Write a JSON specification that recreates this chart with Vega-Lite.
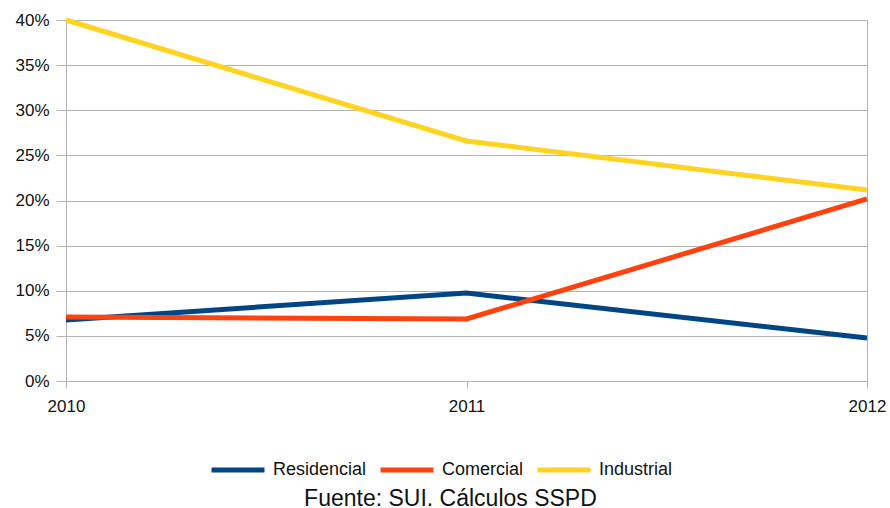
{
  "$schema": "https://vega.github.io/schema/vega-lite/v6.json",
  "width": 801,
  "height": 361,
  "autosize": {"type": "none"},
  "padding": {"left": 66, "top": 20, "right": 23, "bottom": 127},
  "background": "white",
  "title": {
    "text": "Fuente: SUI. Cálculos SSPD",
    "orient": "bottom",
    "anchor": "middle",
    "frame": "bounds",
    "font": "Liberation Sans",
    "fontSize": 23,
    "fontWeight": "normal",
    "color": "#111111",
    "offset": 8
  },
  "data": {
    "values": [
      {"year": "2010", "sector": "Residencial", "value": 0.0676},
      {"year": "2011", "sector": "Residencial", "value": 0.0975},
      {"year": "2012", "sector": "Residencial", "value": 0.0476},
      {"year": "2010", "sector": "Comercial", "value": 0.071},
      {"year": "2011", "sector": "Comercial", "value": 0.0687},
      {"year": "2012", "sector": "Comercial", "value": 0.2017},
      {"year": "2010", "sector": "Industrial", "value": 0.40},
      {"year": "2011", "sector": "Industrial", "value": 0.266},
      {"year": "2012", "sector": "Industrial", "value": 0.2116}
    ]
  },
  "mark": {"type": "line", "strokeWidth": 5, "strokeCap": "butt", "clip": false},
  "encoding": {
    "x": {
      "field": "year",
      "type": "ordinal",
      "scale": {"type": "point", "padding": 0},
      "axis": {
        "title": null,
        "labelAngle": 0,
        "labelFont": "Liberation Sans",
        "labelFontSize": 17,
        "labelColor": "#111111",
        "labelPadding": 10,
        "tickSize": 7,
        "tickColor": "#b3b3b3",
        "domainColor": "#b3b3b3",
        "grid": false
      }
    },
    "y": {
      "field": "value",
      "type": "quantitative",
      "scale": {"domain": [0, 0.4], "nice": false},
      "axis": {
        "title": null,
        "format": ".0%",
        "values": [0, 0.05, 0.1, 0.15, 0.2, 0.25, 0.3, 0.35, 0.4],
        "labelFont": "Liberation Sans",
        "labelFontSize": 17,
        "labelColor": "#111111",
        "labelPadding": 7,
        "tickSize": 10,
        "tickColor": "#b3b3b3",
        "domainColor": "#b3b3b3",
        "gridColor": "#b3b3b3"
      }
    },
    "color": {
      "field": "sector",
      "type": "nominal",
      "sort": ["Residencial", "Comercial", "Industrial"],
      "scale": {"domain": ["Residencial", "Comercial", "Industrial"], "range": ["#004586", "#ff420e", "#ffd320"]},
      "legend": {
        "title": null,
        "orient": "none",
        "legendX": 143,
        "legendY": 421,
        "direction": "horizontal",
        "symbolType": "stroke",
        "symbolSize": 2809,
        "symbolStrokeWidth": 5,
        "labelFont": "Liberation Sans",
        "labelFontSize": 18,
        "labelColor": "#111111",
        "columnPadding": 3,
        "labelOffset": 6
      }
    }
  },
  "config": {
    "view": {"stroke": "#b3b3b3"},
    "axis": {"gridWidth": 1}
  }
}
